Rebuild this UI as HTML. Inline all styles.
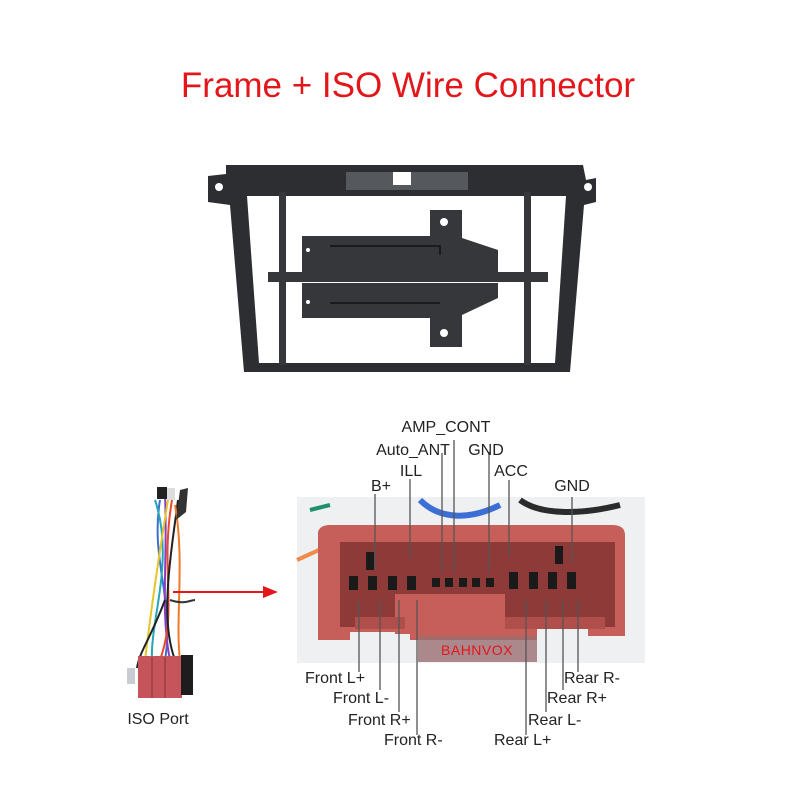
<!DOCTYPE html>
<html><head><meta charset="utf-8"><style>
html,body{margin:0;padding:0;background:#fff;width:800px;height:800px;overflow:hidden}
svg{display:block}
text{font-family:"Liberation Sans",sans-serif}
</style></head><body>
<svg width="800" height="800" viewBox="0 0 800 800" xmlns="http://www.w3.org/2000/svg">
<rect width="800" height="800" fill="#fff"/>
<text x="408" y="97" font-size="35" fill="#e3161b" text-anchor="middle">Frame + ISO Wire Connector</text>

<!-- Frame -->
<g fill="#2c2e31">
<path d="M226 165 L583 165 L586 180 L596 178 L596 202 L584 205 L570 372 L244 372 L230 205 L208 202 L208 176 L226 174 Z" />
</g>
<path d="M247 196 L566 196 L555 363 L259 363 Z" fill="#fff"/>
<rect x="346" y="172" width="70" height="18" fill="#55585c"/>
<rect x="393" y="172" width="18" height="13" fill="#fff"/>
<rect x="416" y="172" width="52" height="18" fill="#55585c"/>
<circle cx="219" cy="187" r="4" fill="#fff"/><circle cx="588" cy="187" r="4" fill="#fff"/>
<g fill="#35373a">
<rect x="279" y="192" width="7" height="173"/>
<rect x="524" y="192" width="7" height="173"/>
<rect x="268" y="272" width="280" height="10"/>
<path d="M302 236 L430 236 L430 210 L462 210 L462 238 L498 250 L498 272 L302 272 Z"/>
<path d="M302 283 L498 283 L498 298 L462 315 L462 347 L430 347 L430 318 L302 318 Z"/>
</g>
<g fill="#fff"><circle cx="444" cy="222" r="4"/><circle cx="444" cy="333" r="4"/><circle cx="308" cy="250" r="2"/><circle cx="308" cy="302" r="2"/></g>
<path d="M330 246 L440 246 L440 255" stroke="#1a1b1d" stroke-width="2" fill="none"/>
<path d="M330 303 L440 303" stroke="#1a1b1d" stroke-width="2" fill="none"/>

<!-- Harness -->
<g fill="none" stroke-width="2">
<path d="M160 500 C150 560 175 600 165 660" stroke="#3a6fd0"/>
<path d="M165 495 C168 560 160 610 170 660" stroke="#8a3fc0"/>
<path d="M172 500 C160 570 178 610 160 660" stroke="#e94a2a"/>
<path d="M178 500 C170 560 160 620 175 660" stroke="#222"/>
<path d="M155 500 C175 560 150 620 152 660" stroke="#27a7b5"/>
<path d="M168 500 C155 580 150 620 145 660" stroke="#e5c52a"/>
<path d="M175 505 C185 560 175 620 180 660" stroke="#f07a2a"/>
<path d="M165 600 C150 640 140 650 137 668" stroke="#222"/>
<path d="M170 600 C185 605 190 600 195 600" stroke="#333"/>
</g>
<rect x="157" y="487" width="10" height="12" fill="#222"/>
<rect x="167" y="488" width="8" height="12" fill="#ddd"/>
<path d="M180 490 L188 488 L186 512 L176 520 Z" fill="#333"/>
<rect x="138" y="656" width="44" height="42" fill="#c5555a"/>
<rect x="181" y="655" width="12" height="40" fill="#1d1d1d"/>
<rect x="127" y="668" width="8" height="16" fill="#c9ccd2"/>
<line x1="152" y1="657" x2="152" y2="698" stroke="#8c3338"/>
<line x1="165" y1="657" x2="165" y2="698" stroke="#8c3338"/>
<text x="158" y="724" font-size="16" fill="#222" text-anchor="middle">ISO Port</text>

<!-- Arrow -->
<line x1="173" y1="592" x2="265" y2="592" stroke="#e3161b" stroke-width="2"/>
<path d="M263 586 L278 592 L263 598 Z" fill="#e3161b"/>

<!-- Connector photo -->
<rect x="297" y="497" width="348" height="166" fill="#eef0f2"/>
<path d="M297 560 L330 545" stroke="#f08a4a" stroke-width="4"/>
<path d="M310 510 L330 505" stroke="#1e8f6a" stroke-width="4"/>
<path d="M420 500 C440 520 470 520 500 505" stroke="#3b6fd6" stroke-width="6" fill="none"/>
<path d="M520 500 C540 515 580 515 620 505" stroke="#2b2b2b" stroke-width="6" fill="none"/>
<path d="M318 532 Q320 525 330 525 L612 525 Q625 525 625 535 L625 636 L588 636 L588 628 L537 628 L537 640 L410 640 L410 632 L350 632 L350 640 L318 640 Z" fill="#c65e5a"/>
<rect x="340" y="542" width="275" height="85" fill="#8e3a38"/>
<rect x="395" y="594" width="110" height="40" fill="#c65e5a"/>
<rect x="355" y="617" width="50" height="12" fill="#b04e4c"/>
<rect x="505" y="617" width="100" height="12" fill="#b04e4c"/>
<g fill="#1a1a1a">
<rect x="349" y="576" width="9" height="14"/><rect x="368" y="576" width="9" height="14"/><rect x="388" y="576" width="9" height="14"/><rect x="407" y="576" width="9" height="14"/>
<rect x="432" y="578" width="8" height="9"/><rect x="445" y="578" width="8" height="9"/><rect x="459" y="578" width="8" height="9"/><rect x="472" y="578" width="8" height="9"/><rect x="486" y="578" width="8" height="9"/>
<rect x="509" y="572" width="9" height="17"/><rect x="529" y="572" width="9" height="17"/><rect x="548" y="572" width="9" height="17"/><rect x="567" y="572" width="9" height="17"/>
<rect x="366" y="552" width="8" height="18"/><rect x="555" y="546" width="8" height="18"/>
</g>
<rect x="418" y="636" width="119" height="26" fill="#9a6e70" opacity="0.8"/>
<text x="477" y="655" font-size="14" fill="#e3161b" text-anchor="middle" letter-spacing="0.5">BAHNVOX</text>

<!-- leader lines -->
<g stroke="#555" stroke-width="1.3">
<line x1="375" y1="494" x2="375" y2="570"/>
<line x1="410" y1="479" x2="410" y2="558"/>
<line x1="442" y1="453" x2="442" y2="573"/>
<line x1="454" y1="440" x2="454" y2="573"/>
<line x1="489" y1="452" x2="489" y2="573"/>
<line x1="509" y1="480" x2="509" y2="557"/>
<line x1="572" y1="497" x2="572" y2="562"/>
<line x1="359" y1="600" x2="359" y2="672"/>
<line x1="380" y1="600" x2="380" y2="690"/>
<line x1="399" y1="600" x2="399" y2="712"/>
<line x1="417" y1="600" x2="417" y2="735"/>
<line x1="526" y1="600" x2="526" y2="735"/>
<line x1="546" y1="600" x2="546" y2="712"/>
<line x1="563" y1="600" x2="563" y2="690"/>
<line x1="578" y1="600" x2="578" y2="672"/>
</g>
<g font-size="16" fill="#222">
<text x="446" y="432" text-anchor="middle">AMP_CONT</text>
<text x="413" y="455" text-anchor="middle">Auto_ANT</text>
<text x="486" y="455" text-anchor="middle">GND</text>
<text x="411" y="476" text-anchor="middle">ILL</text>
<text x="511" y="476" text-anchor="middle">ACC</text>
<text x="381" y="491" text-anchor="middle">B+</text>
<text x="572" y="491" text-anchor="middle">GND</text>
<text x="305" y="683">Front L+</text>
<text x="333" y="703">Front L-</text>
<text x="348" y="725">Front R+</text>
<text x="384" y="745">Front R-</text>
<text x="494" y="745">Rear L+</text>
<text x="528" y="725">Rear L-</text>
<text x="547" y="703">Rear R+</text>
<text x="564" y="683">Rear R-</text>
</g>
</svg>
</body></html>
